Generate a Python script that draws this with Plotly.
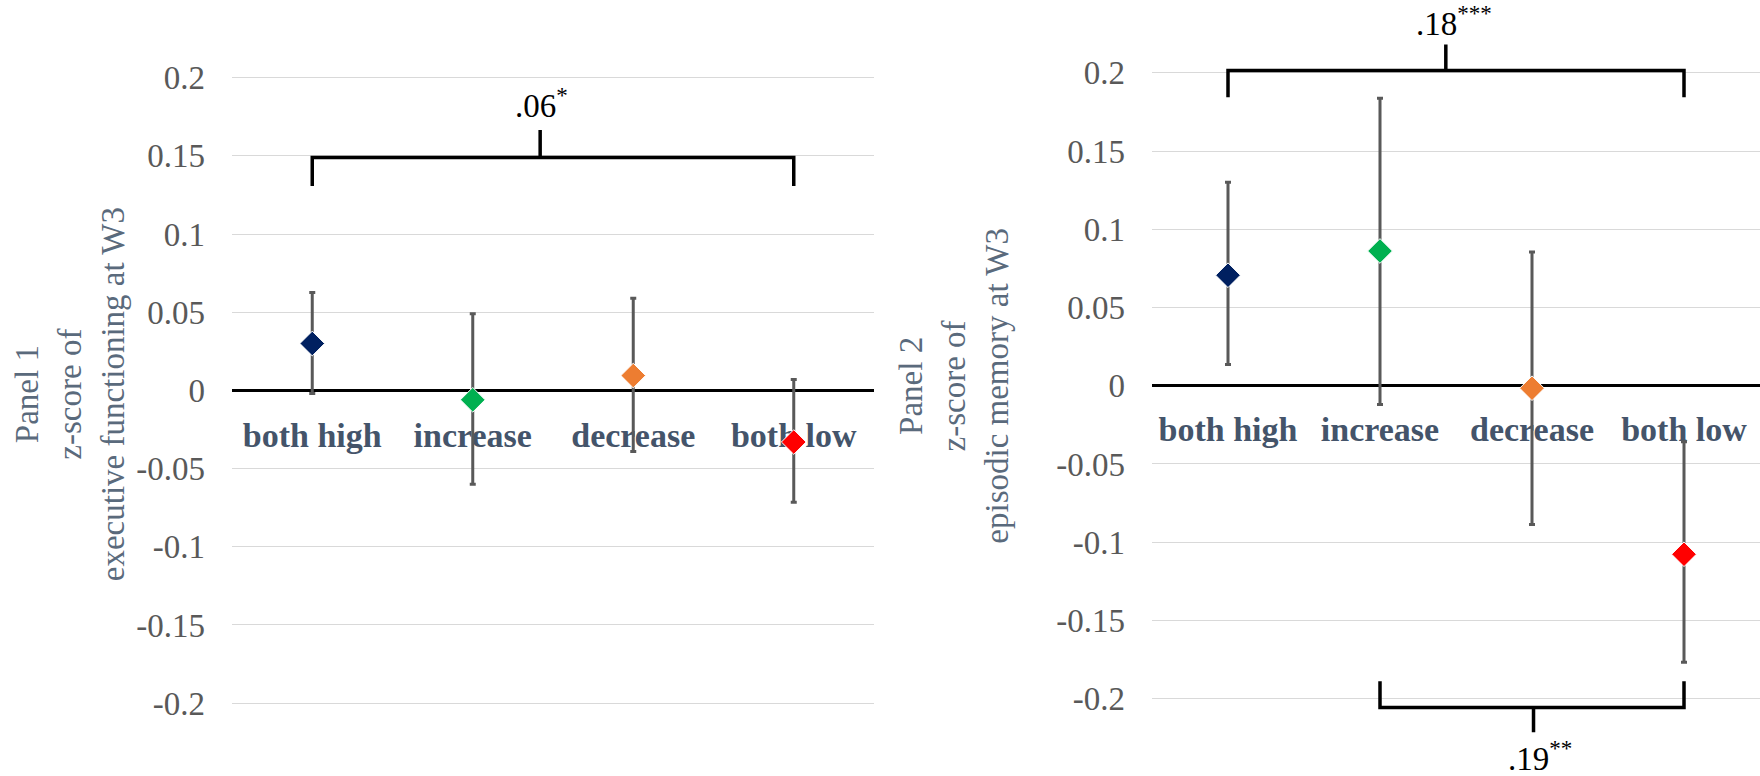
import plotly.graph_objects as go

# ---------------- data ----------------
categories = ["both high", "increase", "decrease", "both low"]
marker_colors = ["#002060", "#00B050", "#ED7D31", "#FF0000"]

ef_mean = [0.030, -0.006, 0.0095, -0.033]
ef_upper = [0.0627, 0.049, 0.059, 0.007]
ef_lower = [-0.002, -0.060, -0.039, -0.0715]

em_mean = [0.0706, 0.0861, -0.0016, -0.1077]
em_upper = [0.130, 0.1837, 0.0855, -0.0358]
em_lower = [0.0136, -0.012, -0.0887, -0.1767]

y_ticks = [0.2, 0.15, 0.1, 0.05, 0, -0.05, -0.1, -0.15, -0.2]
y_tick_text = ["0.2", "0.15", "0.1", "0.05", "0", "-0.05", "-0.1", "-0.15", "-0.2"]

panel_titles = [
    "Panel 1<br>z-score of<br>executive functioning at W3",
    "Panel 2<br>z-score of<br>episodic memory at W3",
]

# brackets: (from category, to category, centre index, bar level, leg end, tick end, label, label x, label y)
brackets_p1 = [(0, 3, 1.42, 0.149, 0.1308, 0.1666, ".06<sup>*</sup>", 1.43, 0.184)]
brackets_p2 = [
    (0, 3, 1.433, 0.2015, 0.1843, 0.218, ".18<sup>***</sup>", 1.49, 0.233),
    (1, 3, 2.01, -0.2057, -0.1889, -0.2215, ".19<sup>**</sup>", 2.05, -0.2365),
]

# ---------------- figure ----------------
SERIF = "Liberation Serif, Times New Roman, serif"
W, H = 1760, 776
xpos = list(range(len(categories)))

fig = go.Figure()


def add_panel(mean, upper, lower, xa, ya):
    fig.add_trace(go.Scatter(
        x=xpos, y=mean, mode="markers",
        marker=dict(symbol="diamond", size=19, color=marker_colors,
                    line=dict(color="white", width=1)),
        error_y=dict(type="data", symmetric=False,
                     array=[u - m for u, m in zip(upper, mean)],
                     arrayminus=[m - l for m, l in zip(mean, lower)],
                     color="#595959", thickness=3, width=3),
        xaxis=xa, yaxis=ya, showlegend=False, hoverinfo="skip",
    ))


add_panel(ef_mean, ef_upper, ef_lower, "x", "y")
add_panel(em_mean, em_upper, em_lower, "x2", "y2")

shapes = []
annotations = []
for brs, xr, yr in [(brackets_p1, "x", "y"), (brackets_p2, "x2", "y2")]:
    for (a, b, c, lvl, leg, tick, lab, lx, ly) in brs:
        path = (f"M {a},{leg} L {a},{lvl} L {b},{lvl} L {b},{leg} "
                f"M {c},{lvl} L {c},{tick}")
        shapes.append(dict(type="path", path=path, xref=xr, yref=yr,
                           line=dict(color="black", width=3.5)))
        annotations.append(dict(x=lx, y=ly, xref=xr, yref=yr, text=lab,
                                showarrow=False, xanchor="center", yanchor="middle",
                                font=dict(family=SERIF, size=33, color="black")))

for txt, xc, yc in [(panel_titles[0], 70 / W, 0.492), (panel_titles[1], 954 / W, 0.503)]:
    annotations.append(dict(x=xc, y=yc, xref="paper", yref="paper", text=txt,
                            textangle=-90, showarrow=False,
                            xanchor="center", yanchor="middle",
                            font=dict(family=SERIF, size=33, color="#5A6A7C")))

xaxis_common = dict(
    range=[-0.5, 3.5], tickvals=xpos, ticktext=categories,
    showgrid=False, zeroline=False, showline=False, ticks="",
    tickfont=dict(family=SERIF, size=34, color="#44546A", weight="bold"),
    ticklabelstandoff=20, layer="below traces", anchor="free", fixedrange=True,
)
yaxis_common = dict(
    tickvals=y_ticks, ticktext=y_tick_text,
    showgrid=True, gridcolor="#D9D9D9", gridwidth=1,
    zeroline=True, zerolinecolor="black", zerolinewidth=3,
    showline=False, ticks="", ticklabelstandoff=26,
    tickfont=dict(family=SERIF, size=33, color="#595959"),
    domain=[0, 1], fixedrange=True,
)

fig.update_layout(
    width=W, height=H,
    margin=dict(l=0, r=0, t=0, b=0),
    paper_bgcolor="white", plot_bgcolor="white",
    xaxis=dict(domain=[232 / W, 874 / W], position=1 - 391.7 / H, **xaxis_common),
    xaxis2=dict(domain=[1152 / W, 1.0], position=1 - 385.7 / H, **xaxis_common),
    yaxis=dict(anchor="x", range=[-0.2466, 0.2497], **yaxis_common),
    yaxis2=dict(anchor="x2", range=[-0.2494, 0.2465], **yaxis_common),
    shapes=shapes, annotations=annotations,
)

fig.write_html("out.html", config={"displayModeBar": False},
               post_script="document.body.style.margin='0';")
